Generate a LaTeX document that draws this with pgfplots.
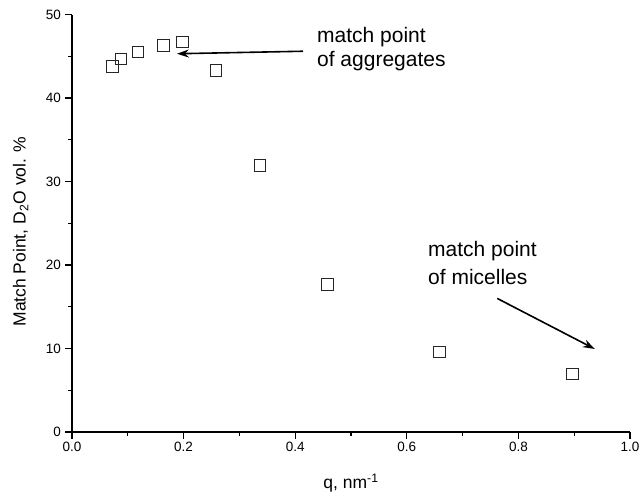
\documentclass[border=0pt]{standalone}
\usepackage{fontspec}
\setmainfont{Liberation Sans}
\usepackage{pgfplots}
\pgfplotsset{compat=1.18}
\usetikzlibrary{arrows.meta}
\begin{document}
\begin{tikzpicture}[x=1pt,y=1pt]
\path[use as bounding box] (-72,-64) rectangle (568,432);
\begin{axis}[
  scale only axis,
  width=558pt, height=417.5pt,
  at={(0,0)}, anchor=south west,
  xmin=0, xmax=1, ymin=0, ymax=50,
  axis x line*=bottom, axis y line*=left,
  axis line style={line width=1.3pt,-},
  xtick={0,0.2,...,1.0}, ytick={0,10,...,50},
  minor x tick num=1, minor y tick num=1,
  tick align=outside,
  major tick length=6.5pt, minor tick length=3.5pt,
  tick style={line width=1.1pt,black},
  x tick label style={/pgf/number format/fixed, /pgf/number format/fixed zerofill, /pgf/number format/precision=1, font=\fontsize{13.5}{15}\selectfont},
  y tick label style={font=\fontsize{13.5}{15}\selectfont, xshift=-1pt},
  /pgf/number format/assume math mode=true,
  xlabel={q, nm\textsuperscript{-1}},
  ylabel={Match Point, D\textsubscript{2}O vol. \%},
  xlabel style={font=\fontsize{17.5}{20}\selectfont, at={(axis description cs:0.5,-0.122)}, anchor=center},
  ylabel style={font=\fontsize{17.5}{20}\selectfont, at={(axis description cs:-0.092,0.48)}, anchor=center},
  clip=false,
]
\addplot[only marks, mark=square, mark size=5.8pt, mark options={line width=0.9pt, draw=black!85, fill=white}] coordinates {
(0.072,43.8) (0.088,44.7) (0.118,45.5) (0.164,46.3) (0.198,46.7)
(0.258,43.3) (0.337,31.9) (0.458,17.7) (0.658,9.6) (0.897,6.95)
};
\draw[line width=1.6pt, -{Stealth[length=12pt,width=8pt]}] (axis cs:0.414,45.6) -- (axis cs:0.188,45.3);
\draw[line width=1.6pt, -{Stealth[length=12pt,width=8pt]}] (axis cs:0.762,16.0) -- (axis cs:0.937,9.94);
\node[anchor=base west, inner sep=0pt, font=\fontsize{21}{24}\selectfont] at (axis cs:0.439,46.62) {match point};
\node[anchor=base west, inner sep=0pt, font=\fontsize{21}{24}\selectfont] at (axis cs:0.439,43.75) {of aggregates};
\node[anchor=base west, inner sep=0pt, font=\fontsize{21}{24}\selectfont] at (axis cs:0.638,20.96) {match point};
\node[anchor=base west, inner sep=0pt, font=\fontsize{21}{24}\selectfont] at (axis cs:0.638,17.72) {of micelles};
\end{axis}
\end{tikzpicture}
\end{document}
